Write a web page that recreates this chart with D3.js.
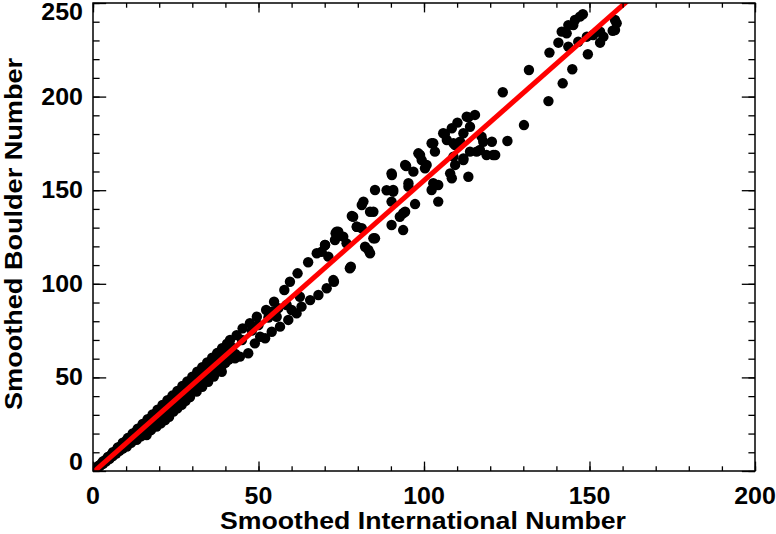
<!DOCTYPE html>
<html><head><meta charset="utf-8">
<script src="https://cdn.jsdelivr.net/npm/d3@7"></script>
<style>body{margin:0;background:#fff}svg{display:block}text{font-family:"Liberation Sans",Arial,Helvetica,sans-serif;font-weight:bold;fill:#000}</style>
</head><body><div id="chart"></div>
<script>
// Smoothed International sunspot number (x) vs Smoothed Boulder number (y)
const intlNum = [
 0.5,1,1.5,2,2.5,3,3.5,4,5,5.5,6,7,7.5,8,9,10,11,12,13,14,15,16,17,18,19,20,21,22,23,24,25,26,27,28,29,30,31,32,33,34,35,36,37,38,39,40,
 2,4,6,8,10,12,14,16,18,20,22,24,26,28,30,32,34,36,
 3,5,7,9,10.2,11.5,13.2,14.5,16.2,17.5,19.2,20.5,21.8,23,24.3,25.5,26.8,28,29.3,31.3,33,34.8,36.5,38.9,
 1,2,3,4,5,6,7,8,9,10,11,12,13,14,15,16,17,18,19,20,21,22,23,24,25,26,27,28,29,30,31,32,33,34,35,36,37,38,39,40,41,42,43,
 1.5,3,4.5,6,7.5,9,10.5,12,13.5,15,16.5,18,19.5,21,22.5,24,25.5,27,28.5,30,31.5,33,34.5,36,37.5,39,40.5,
 41.4,43.4,45.2,47.4,49.5,52.3,54.7,57.8,59.5,61.8,65,67.6,70.1,73.3,
 42,45,48,50,53,56,
 36.3,39.4,42.9,44.4,46.9,48.9,50.5,52,54,55.5,56.5,59,60,61.5,62.5,63,65.6,68.1,70.6,72.8,54,58.5,
 69.1,70.1,71.1,73.1,74.1,75.6,76.6,72.6,77.6,77.9,78.2,78.6,79.7,81.2,82.2,83.2,83.7,84.7,85.2,73.6,79.7,81.2,83.7,
 81.7,84.7,85.2,90.2,90.2,90.7,90.2,92.7,93.7,94.3,95.3,94.3,96.8,97.3,98.8,100.8,102.3,102.8,103.3,104.3,104.3,90.3,90.7,94.6,95.3,93.7,88.7,
 98.3,99.3,100.3,102.3,102.8,106.3,107.9,108.4,108.4,108.9,109.4,110.1,110.9,111.9,111.9,113.4,113.4,113.9,115.4,115.9,117.9,118.9,120.5,121.5,105.8,106.9,109.4,108.9,111.9,113.9,116.9,117.4,120.9,112.9,
 123.8,125.2,130.2,131.7,137.6,141.9,144.8,137.9,149.5,140.6,143.6,141.6,143.6,145.6,147.1,148,146.6,149.2,151.1,153.2,153.2,157,158.2,157.7,145.1,143.1,154.2,157.7
];
const boulderNum = [
 0.6,1.5,2.3,3,3.9,4.6,5.5,6.2,7.8,8.6,9.5,11,12,12.8,14.4,16,17.6,19.3,21,22.6,24.2,25.8,27.5,29.2,30.8,32.5,34,35.8,37.3,39,40.6,42.2,43.8,45.5,47,48.7,50.3,52,53.5,55.2,56.8,58.6,60.3,62,63.5,65.2,
 2.8,5.9,9,12.2,15.3,18.5,21.6,24.7,27.8,31,34,37.2,40.3,43.4,46.5,49.6,52.6,55.7,
 4,6.8,9.6,12.3,13,15,16.6,18.5,19.2,21.8,23.7,25.5,27.2,29,31.7,33.5,35.3,37.5,39.5,42.4,45,47.7,50.5,53,
 1.2,2.5,3.8,5.2,6.5,8,9.3,10.8,12,13.8,15,16.5,17.8,19.5,20.8,22.5,23.8,25.5,26.8,28.3,29.6,31.2,32.6,34.2,35.5,37,38.6,40,41.5,43,44.5,46,47.3,48.8,50.3,51.8,53.3,54.8,56.3,57.8,59.5,61,62.5,
 2.6,5.1,7.5,10,12.6,15.1,17.6,20.1,22.6,25.2,27.7,30.2,32.7,35.3,37.8,40.3,42.8,45.4,47.9,50.4,53,55.5,58,60.5,63,65.6,68,
 70,72.6,76.2,78.9,82.4,86,90.4,96.7,101.1,105.6,111.5,116.3,120.7,127,
 66,70,75,78,82,87,
 55.7,58.4,60.2,61.1,62.9,68.2,71.7,70.9,74.4,82.4,77.1,80.7,86,84.2,93.1,87.8,91.3,94,97.6,101.1,85.1,88.7,
 117.1,120.7,114.5,123.4,127.8,125.2,121.6,102,108.3,109.1,136.2,135.8,130.5,129.7,119.8,118.1,116.3,124.3,124.3,127.8,130.5,142.1,138.5,
 143.9,138.5,150.1,131.4,143.9,149.2,159,135.8,128.7,138.5,153.7,163.5,159.9,142.6,168.8,163.5,150.1,175.1,170.6,152.8,143.9,158.1,150.1,162.9,151.9,137.7,150,
 169.7,166.1,161.7,175.1,153.7,180,159,156.4,183.1,175.1,163.5,186.1,175.9,166.1,180.4,157.2,188.9,183.9,190.2,170.6,175.9,168.8,175.9,168.8,180.4,176.8,174.1,167.9,167,170.6,171.5,178.6,168.8,189.3,
 202.3,176.3,184.8,214.2,197.6,207.1,214.6,223.5,222.6,228.8,226.7,234.7,238.2,240.9,242.7,244,229.3,232,232.9,234.7,228.8,235.2,239.2,240.9,238.2,233.8,232,235.6
];
const xTicks = [0, 50, 100, 150, 200];
const yTicks = [0, 50, 100, 150, 200, 250];
const fitSlope = 1.56, fitIntercept = -0.8;
const xTitle = "Smoothed International Number";
const yTitle = "Smoothed Boulder Number";

const W = 776, H = 534;
const m = {left: 93, right: 21, top: 3, bottom: 63};
const iw = W - m.left - m.right, ih = H - m.top - m.bottom;
const svg = d3.select("#chart").append("svg").attr("width", W).attr("height", H);
const x = d3.scaleLinear().domain([0, 200]).range([m.left, m.left + iw]);
const y = d3.scaleLinear().domain([0, 250]).range([m.top + ih, m.top]);

svg.append("defs").append("clipPath").attr("id", "clip")
  .append("rect").attr("x", m.left).attr("y", m.top).attr("width", iw).attr("height", ih);

const pts = intlNum.map((v, i) => [v, boulderNum[i]]);
const g = svg.append("g").attr("clip-path", "url(#clip)");
g.selectAll("circle").data(pts).join("circle")
  .attr("cx", d => x(d[0])).attr("cy", d => y(d[1])).attr("r", 5.2).attr("fill", "#000");
g.append("line")
  .attr("x1", x(0)).attr("y1", y(fitIntercept))
  .attr("x2", x(165)).attr("y2", y(fitIntercept + fitSlope * 165))
  .attr("stroke", "#ff0000").attr("stroke-width", 5);

// axes
const xMinor = d3.range(0, 201, 10), yMinor = d3.range(0, 251, 10);
const xl = 9.4, yl = 13.2;
const noPath = s => s.selectAll("path").remove();
svg.append("g").attr("transform", `translate(0,${m.top + ih})`)
  .call(d3.axisBottom(x).tickValues(xMinor).tickSize(-xl/2).tickFormat("")).call(noPath);
svg.append("g").attr("transform", `translate(0,${m.top + ih})`)
  .call(d3.axisBottom(x).tickValues(xTicks).tickSize(-xl).tickFormat("")).call(noPath);
svg.append("g").attr("transform", `translate(0,${m.top})`)
  .call(d3.axisTop(x).tickValues(xMinor).tickSize(-xl/2).tickFormat("")).call(noPath);
svg.append("g").attr("transform", `translate(0,${m.top})`)
  .call(d3.axisTop(x).tickValues(xTicks).tickSize(-xl).tickFormat("")).call(noPath);
svg.append("g").attr("transform", `translate(${m.left},0)`)
  .call(d3.axisLeft(y).tickValues(yMinor).tickSize(-yl/2).tickFormat("")).call(noPath);
svg.append("g").attr("transform", `translate(${m.left},0)`)
  .call(d3.axisLeft(y).tickValues(yTicks).tickSize(-yl).tickFormat("")).call(noPath);
svg.append("g").attr("transform", `translate(${m.left + iw},0)`)
  .call(d3.axisRight(y).tickValues(yMinor).tickSize(-yl/2).tickFormat("")).call(noPath);
svg.append("g").attr("transform", `translate(${m.left + iw},0)`)
  .call(d3.axisRight(y).tickValues(yTicks).tickSize(-yl).tickFormat("")).call(noPath);
svg.selectAll(".tick line").attr("stroke", "#000").attr("stroke-width", 1.3);
svg.append("rect").attr("x", m.left).attr("y", m.top).attr("width", iw).attr("height", ih)
  .attr("fill", "none").attr("stroke", "#000").attr("stroke-width", 1.5);

// tick labels (glyphs widened to match the reference's Helvetica)
const dw = 13.9;
svg.append("g").selectAll("text").data(xTicks).join("text")
  .attr("x", d => x(d)).attr("y", m.top + ih + 33).attr("text-anchor", "middle")
  .attr("textLength", d => String(d).length * dw).attr("lengthAdjust", "spacingAndGlyphs")
  .style("font-size", "23px").text(d => d);
svg.append("g").selectAll("text").data(yTicks).join("text")
  .attr("x", m.left - 10)
  .attr("y", d => { let p = y(d) + 8; if (d === 0) p -= 9; if (d === 250) p += 9; return p; })
  .attr("textLength", d => String(d).length * dw).attr("lengthAdjust", "spacingAndGlyphs")
  .attr("text-anchor", "end").style("font-size", "23px").text(d => d);
// axis titles
svg.append("text").attr("x", 423).attr("y", H - 5).attr("text-anchor", "middle")
  .attr("textLength", 406).attr("lengthAdjust", "spacingAndGlyphs")
  .style("font-size", "23px").text(xTitle);
svg.append("text").attr("transform", `translate(22,234) rotate(-90)`)
  .attr("text-anchor", "middle")
  .attr("textLength", 352).attr("lengthAdjust", "spacingAndGlyphs")
  .style("font-size", "23.5px").text(yTitle);
</script></body></html>
